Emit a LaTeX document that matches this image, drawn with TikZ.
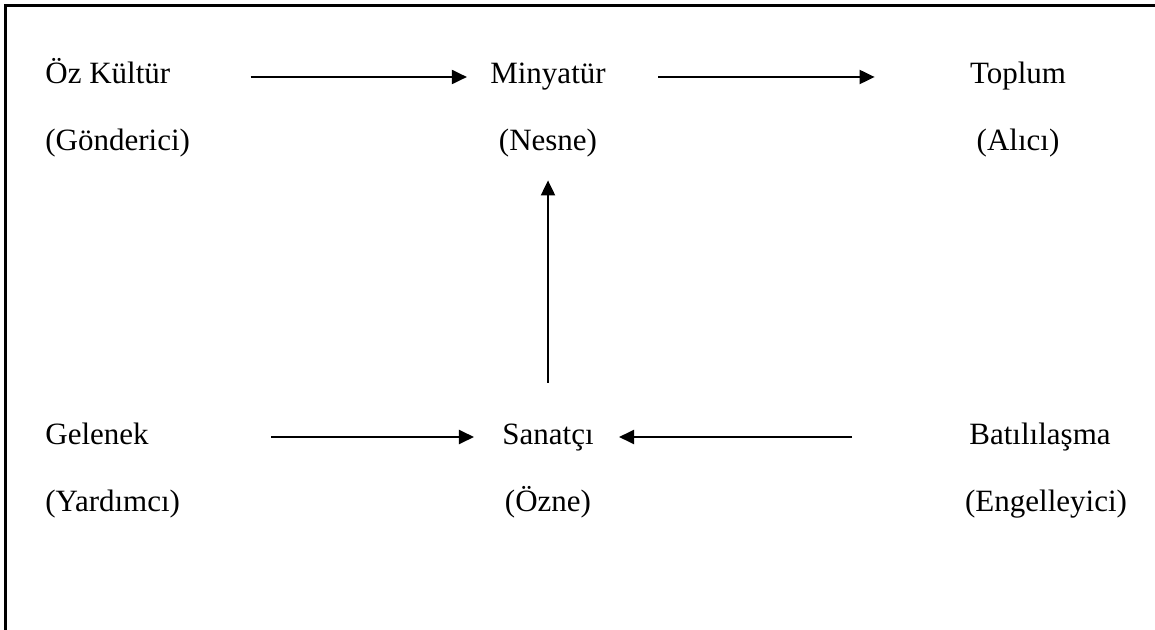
\documentclass[tikz,border=0pt]{standalone}
\usepackage{fontspec}
\setmainfont{Liberation Serif}
\usepackage{tikz}
\usetikzlibrary{arrows.meta}

\begin{document}
\begin{tikzpicture}[x=0.5pt, y=-0.5pt,
	every node/.style={inner sep=0pt, text height=11pt, text depth=4pt, font=\fontsize{15.5}{18}\selectfont},
	arr/.style={line width=1pt, -{Triangle[length=7.5pt, width=7pt]}}]
	\useasboundingbox (0,0) rectangle (1155,630);
	\draw[line width=1.2pt] (5.5,630) -- (5.5,5.5) -- (1155,5.5);
	\node[anchor=west](ozkultur) at (45,77){Öz Kültür};
	\node[anchor=west](gonderici) at (45,144){(Gönderici)};
	\node(minyatur) at (548,77){Minyatür};
	\node(nesne) at (548,144){(Nesne)};
	\node(toplum) at (1018,77){Toplum};
	\node(alici) at (1018,144){(Alıcı)};
	\node[anchor=west](gelenek) at (45,437){Gelenek};
	\node[anchor=west](yardimci) at (45,504){(Yardımcı)};
	\node(sanatci) at (548,437){Sanatçı};
	\node(ozne) at (548,504){(Özne)};
	\node(batililasma) at (1040,437){Batılılaşma};
	\node(engelleyici) at (1046,504){(Engelleyici)};
	\draw[arr, shorten <=40pt, shorten >=11.5pt] (ozkultur) -- (minyatur);
	\draw[arr, shorten <=26pt, shorten >=47.5pt] (minyatur) -- (toplum);
	\draw[arr, shorten <=19.5pt, shorten >=10.5pt] (sanatci) -- (nesne);
	\draw[arr, shorten <=61pt, shorten >=14pt] (gelenek) -- (sanatci);
	\draw[arr, shorten <=58.5pt, shorten >=12.5pt] (batililasma) -- (sanatci);
\end{tikzpicture}
\end{document}
